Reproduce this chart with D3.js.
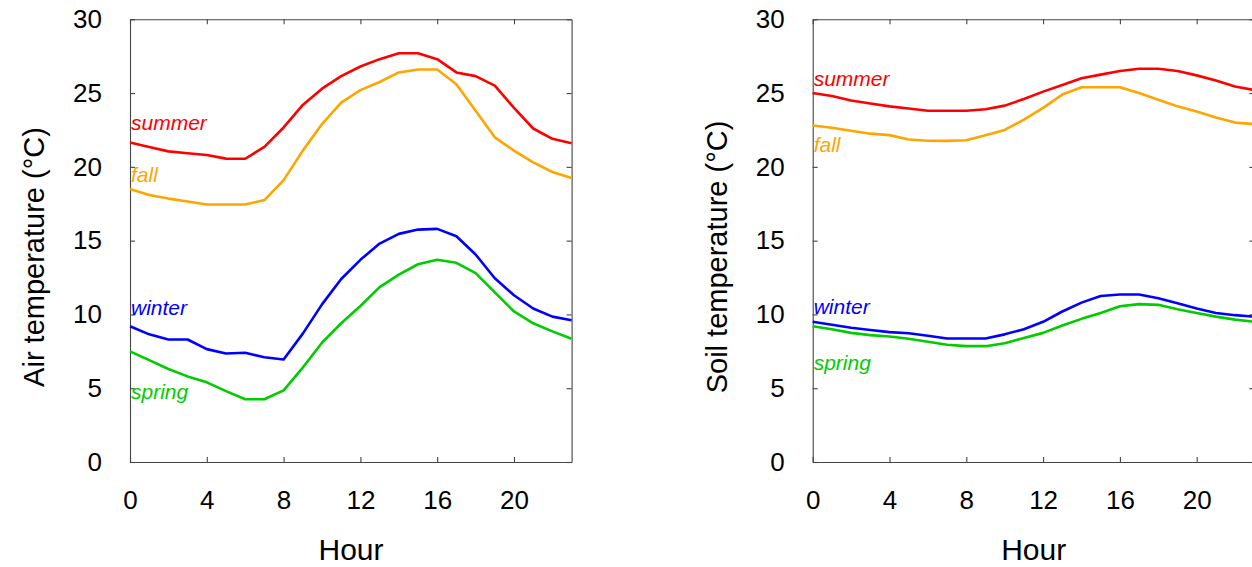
<!DOCTYPE html>
<html>
<head>
<meta charset="utf-8">
<script src="https://cdn.jsdelivr.net/npm/d3@7"></script>
<style>
  html, body { margin: 0; padding: 0; background: #fff; }
  svg { display: block; font-family: "Liberation Sans", Arial, Helvetica, sans-serif; }
</style>
</head>
<body>
<svg id="chart" width="1252" height="567"></svg>
<script>
// Hour of day, 0..23
const hours = d3.range(0, 24);

// Mean hourly air temperature (°C) by season
const airSummer = [21.65, 21.35, 21.05, 20.92, 20.8, 20.56, 20.55, 21.35, 22.67, 24.2, 25.3, 26.15,
                   26.8, 27.3, 27.7, 27.7, 27.3, 26.4, 26.15, 25.5, 24.0, 22.6, 21.9, 21.6];
const airFall   = [18.5, 18.1, 17.85, 17.65, 17.45, 17.45, 17.45, 17.75, 19.1, 21.1, 22.9, 24.35,
                   25.2, 25.75, 26.4, 26.6, 26.6, 25.6, 23.8, 22.0, 21.1, 20.3, 19.65, 19.25];
const airWinter = [9.2, 8.65, 8.3, 8.3, 7.65, 7.35, 7.4, 7.1, 6.95, 8.7, 10.68, 12.4,
                   13.7, 14.8, 15.46, 15.75, 15.8, 15.3, 14.06, 12.45, 11.3, 10.4, 9.85, 9.6];
const airSpring = [7.5, 6.9, 6.3, 5.8, 5.4, 4.8, 4.25, 4.25, 4.85, 6.4, 8.08, 9.4,
                   10.57, 11.85, 12.7, 13.4, 13.7, 13.5, 12.8, 11.5, 10.2, 9.4, 8.85, 8.35];

// Mean hourly soil temperature (°C) by season
const soilSummer = [25.0, 24.8, 24.5, 24.3, 24.1, 23.95, 23.8, 23.8, 23.8, 23.9, 24.15, 24.6,
                    25.1, 25.55, 26.0, 26.25, 26.5, 26.65, 26.65, 26.5, 26.2, 25.85, 25.45, 25.2];
const soilFall   = [22.8, 22.65, 22.45, 22.25, 22.15, 21.85, 21.77, 21.76, 21.8, 22.15, 22.5, 23.2,
                    24.0, 24.9, 25.4, 25.4, 25.4, 25.0, 24.55, 24.1, 23.75, 23.35, 23.0, 22.9];
const soilWinter = [9.5, 9.3, 9.1, 8.95, 8.8, 8.72, 8.55, 8.37, 8.37, 8.37, 8.65, 9.0,
                    9.5, 10.2, 10.8, 11.25, 11.35, 11.35, 11.1, 10.75, 10.4, 10.1, 9.95, 9.85];
const soilSpring = [9.2, 9.0, 8.75, 8.6, 8.5, 8.35, 8.15, 7.95, 7.85, 7.85, 8.05, 8.4,
                    8.75, 9.25, 9.7, 10.1, 10.55, 10.7, 10.65, 10.35, 10.1, 9.85, 9.65, 9.5];

const seasons = ["summer", "fall", "winter", "spring"];
const seasonColors = ["#ff0000", "#ffa500", "#0000ff", "#00cc00"];

// Label heights (°C) for the season names at the left edge of each panel
const airLabelY  = [22.5, 19.0, 9.95, 4.3];
const soilLabelY = [25.5, 21.0, 10.0, 6.25];

const xTicks = [0, 4, 8, 12, 16, 20];
const yTicks = [0, 5, 10, 15, 20, 25, 30];

const panels = [
  { title: "Air temperature (°C)",  series: [airSummer, airFall, airWinter, airSpring],     labels: airLabelY,  left: 130.0 },
  { title: "Soil temperature (°C)", series: [soilSummer, soilFall, soilWinter, soilSpring], labels: soilLabelY, left: 812.7 }
];

const svg = d3.select("#chart");
const plotW = 441.6, plotTop = 19.3, plotBottom = 462;
const axisColor = "#444";

panels.forEach(p => {
  const x = d3.scaleLinear().domain([0, 23]).range([p.left, p.left + plotW]);
  const y = d3.scaleLinear().domain([0, 30]).range([plotBottom, plotTop]);
  const g = svg.append("g");

  const styleAxis = sel => {
    sel.selectAll("path.domain").attr("stroke", axisColor).attr("stroke-width", 1.1);
    sel.selectAll(".tick line").attr("stroke", axisColor).attr("stroke-width", 1.1);
    sel.selectAll(".tick text").attr("fill", "#000")
      .style("font-family", "'Liberation Sans', Arial, sans-serif").style("font-size", "26px");
  };

  g.append("g").attr("transform", `translate(${p.left},0)`)
    .call(d3.axisLeft(y).tickValues(yTicks).tickSize(-5).tickSizeOuter(0).tickPadding(28))
    .call(styleAxis);
  g.append("g").attr("transform", `translate(${p.left + plotW},0)`)
    .call(d3.axisRight(y).tickValues(yTicks).tickSize(-5).tickSizeOuter(0).tickFormat(""))
    .call(styleAxis);
  g.append("g").attr("transform", `translate(0,${plotBottom})`)
    .call(d3.axisBottom(x).tickValues(xTicks).tickSize(-5).tickSizeOuter(0).tickPadding(29))
    .call(styleAxis);
  g.append("g").attr("transform", `translate(0,${plotTop})`)
    .call(d3.axisTop(x).tickValues(xTicks).tickSize(-5).tickSizeOuter(0).tickFormat(""))
    .call(styleAxis);

  const line = d3.line().x((d, i) => x(hours[i])).y(d => y(d));
  p.series.forEach((vals, k) => {
    g.append("path").datum(vals)
      .attr("fill", "none")
      .attr("stroke", seasonColors[k])
      .attr("stroke-width", 2.6)
      .attr("stroke-linejoin", "round")
      .attr("d", line);
  });

  seasons.forEach((s, k) => {
    g.append("text")
      .attr("x", x(0) + 1)
      .attr("y", y(p.labels[k]))
      .attr("fill", seasonColors[k])
      .style("font-style", "italic")
      .style("font-size", "21px")
      .text(s);
  });

  g.append("text")
    .attr("transform", `translate(${p.left - 86},257) rotate(-90)`)
    .attr("text-anchor", "middle")
    .style("font-size", "29px")
    .attr("fill", "#000")
    .text(p.title);

  g.append("text")
    .attr("x", p.left + 221)
    .attr("y", 560)
    .attr("text-anchor", "middle")
    .style("font-size", "30px")
    .attr("fill", "#000")
    .text("Hour");
});
</script>
</body>
</html>
